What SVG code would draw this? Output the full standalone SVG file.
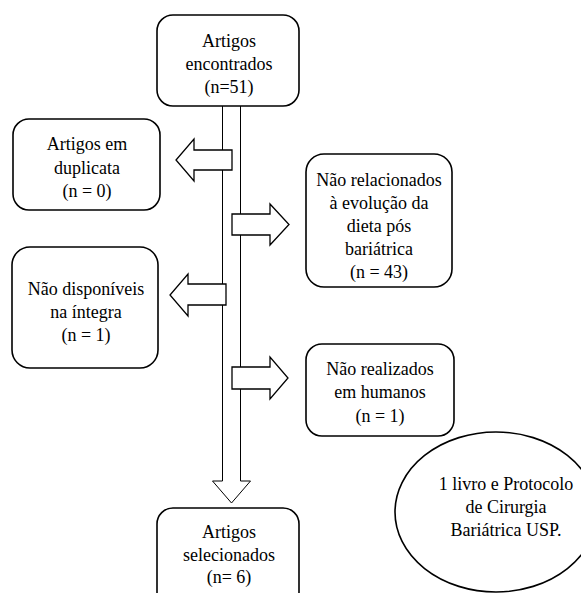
<svg xmlns="http://www.w3.org/2000/svg" width="581" height="593" viewBox="0 0 581 593">
<style>
.box{fill:#fff;stroke:#000;stroke-width:1.6}
.arr{fill:#fff;stroke:#000;stroke-width:1.3;stroke-linejoin:miter}
.shaft{fill:#fff;stroke:#000;stroke-width:1}
text{font-family:"Liberation Serif","Times New Roman","DejaVu Serif",serif;font-size:18px;fill:#000;text-anchor:middle}
</style>
<rect width="581" height="593" fill="#fff"/>
<g id="connectors">
<path class="shaft" d="M222.5,100 V481 H212.5 L231.5,503 L250.5,481 H240.5 V100"/>
<path class="arr" d="M232,150 H194 V139 L176,160 L194,181 V170 H232 Z"/>
<path class="arr" d="M226,284 H188 V274 L170,295 L188,316 V305 H226 Z"/>
<path class="arr" d="M232,214 H270 V204 L289,224.5 L270,245 V235 H232 Z"/>
<path class="arr" d="M232,367 H270 V357 L288,378 L270,399 V389 H232 Z"/>
</g>
<g id="n_top">
<rect class="box" x="157" y="15" width="142" height="91" rx="16"/>
<text x="229" y="47">Artigos</text>
<text x="229" y="70">encontrados</text>
<text x="229" y="93">(n=51)</text>
</g>
<g id="n_duplicata">
<rect class="box" x="13" y="119" width="147" height="91" rx="16"/>
<text x="87" y="150">Artigos  em</text>
<text x="87" y="174">duplicata</text>
<text x="87" y="197">(n = 0)</text>
</g>
<g id="n_relacionados">
<rect class="box" x="306" y="154" width="146" height="133" rx="18"/>
<text x="379" y="186">Não relacionados</text>
<text x="379" y="209">à evolução  da</text>
<text x="379" y="232">dieta  pós</text>
<text x="379" y="255">bariátrica</text>
<text x="379" y="278">(n = 43)</text>
</g>
<g id="n_disponiveis">
<rect class="box" x="12" y="247" width="146" height="121" rx="18"/>
<text x="86" y="295">Não disponíveis</text>
<text x="86" y="318">na íntegra</text>
<text x="86" y="341">(n = 1)</text>
</g>
<g id="n_humanos">
<rect class="box" x="306" y="344" width="148" height="92" rx="16"/>
<text x="380" y="375">Não realizados</text>
<text x="380" y="398">em humanos</text>
<text x="380" y="422">(n = 1)</text>
</g>
<g id="n_selecionados">
<rect class="box" x="157" y="508" width="142" height="100" rx="16"/>
<text x="229" y="538">Artigos</text>
<text x="229" y="561">selecionados</text>
<text x="229" y="583">(n= 6)</text>
</g>
<g id="n_livro">
<ellipse class="box" cx="496" cy="512" rx="101" ry="80"/>
<text x="506" y="490">1 livro e Protocolo</text>
<text x="506" y="513">de Cirurgia</text>
<text x="506" y="536">Bariátrica USP.</text>
</g>
</svg>
